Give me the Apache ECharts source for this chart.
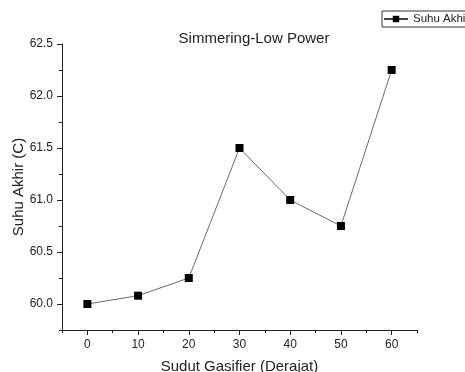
<!DOCTYPE html>
<html>
<head>
<meta charset="utf-8">
<script src="https://cdn.jsdelivr.net/npm/echarts@6/dist/echarts.min.js"></script>
<style>
html, body { margin: 0; padding: 0; background: #fff; }
#chart { width: 465px; height: 372px; }
</style>
</head>
<body>
<div id="chart"></div>
<script>
// data
const sudut = [0, 10, 20, 30, 40, 50, 60]
const suhuAkhir = [60.0, 60.08, 60.25, 61.5, 61.0, 60.75, 62.25]
const xMajorTicks = [0, 10, 20, 30, 40, 50, 60]
const xMinorTicks = [-5, 5, 15, 25, 35, 45, 55, 65]
const yMajorTicks = [60.0, 60.5, 61.0, 61.5, 62.0, 62.5]
const yMinorTicks = [59.75, 60.25, 60.75, 61.25, 61.75, 62.25]

const font = 'Liberation Sans, Arial, sans-serif'
const chart = echarts.init(document.getElementById('chart'))

const option = {
    animation: false,
    backgroundColor: '#fff',
    title: {
        text: 'Simmering-Low Power',
        left: 249,
        textAlign: 'center',
        top: 26,
        textStyle: { fontFamily: font, fontSize: 15, fontWeight: 'normal', color: '#222' }
    },
    legend: {
        left: 382,
        top: 11,
        orient: 'horizontal',
        borderColor: '#333',
        borderWidth: 1,
        borderRadius: 0,
        padding: [2, 30, 2, 1],
        itemWidth: 24,
        itemHeight: 8,
        itemGap: 4,
        textStyle: { fontFamily: font, fontSize: 11.5, color: '#222' },
        data: [{ name: 'Suhu Akhir (C)' }]
    },
    grid: { left: 62, right: 48, top: 44, bottom: 42, containLabel: false, outerBoundsMode: 'none' },
    xAxis: [
        {
            type: 'value',
            min: -5,
            max: 65,
            name: 'Sudut Gasifier (Derajat)',
            nameLocation: 'middle',
            nameGap: 29,
            nameMoveOverlap: false,
            nameTextStyle: { fontFamily: font, fontSize: 15, color: '#222' },
            axisLine: { show: true, onZero: false, lineStyle: { color: '#222', width: 1 } },
            axisTick: { show: true, customValues: xMajorTicks, length: 5, lineStyle: { color: '#222' } },
            axisLabel: { customValues: xMajorTicks, fontFamily: font, fontSize: 12, color: '#222', margin: 9 },
            splitLine: { show: false }
        },
        {
            type: 'value',
            min: -5,
            max: 65,
            position: 'bottom',
            axisLine: { show: false, onZero: false },
            axisTick: { show: true, customValues: xMinorTicks, length: 3, lineStyle: { color: '#222' } },
            axisLabel: { show: false },
            splitLine: { show: false }
        }
    ],
    yAxis: [
        {
            type: 'value',
            min: 59.75,
            max: 62.5,
            name: 'Suhu Akhir (C)',
            nameLocation: 'middle',
            nameGap: 36,
            nameMoveOverlap: false,
            nameTextStyle: { fontFamily: font, fontSize: 15, color: '#222' },
            axisLine: { show: true, onZero: false, lineStyle: { color: '#222', width: 1 } },
            axisTick: { show: true, customValues: yMajorTicks, length: 5, lineStyle: { color: '#222' } },
            axisLabel: {
                customValues: yMajorTicks,
                fontFamily: font, fontSize: 12, color: '#222', margin: 9,
                formatter: v => v.toFixed(1)
            },
            splitLine: { show: false }
        },
        {
            type: 'value',
            min: 59.75,
            max: 62.5,
            position: 'left',
            axisLine: { show: false, onZero: false },
            axisTick: { show: true, customValues: yMinorTicks, length: 3, lineStyle: { color: '#222' } },
            axisLabel: { show: false },
            splitLine: { show: false }
        }
    ],
    series: [
        {
            name: 'Suhu Akhir (C)',
            type: 'line',
            data: sudut.map((x, i) => [x, suhuAkhir[i]]),
            symbol: 'rect',
            symbolSize: 8,
            itemStyle: { color: '#000' },
            lineStyle: { color: '#444', width: 0.8 }
        }
    ]
}
chart.setOption(option)
</script>
</body>
</html>
